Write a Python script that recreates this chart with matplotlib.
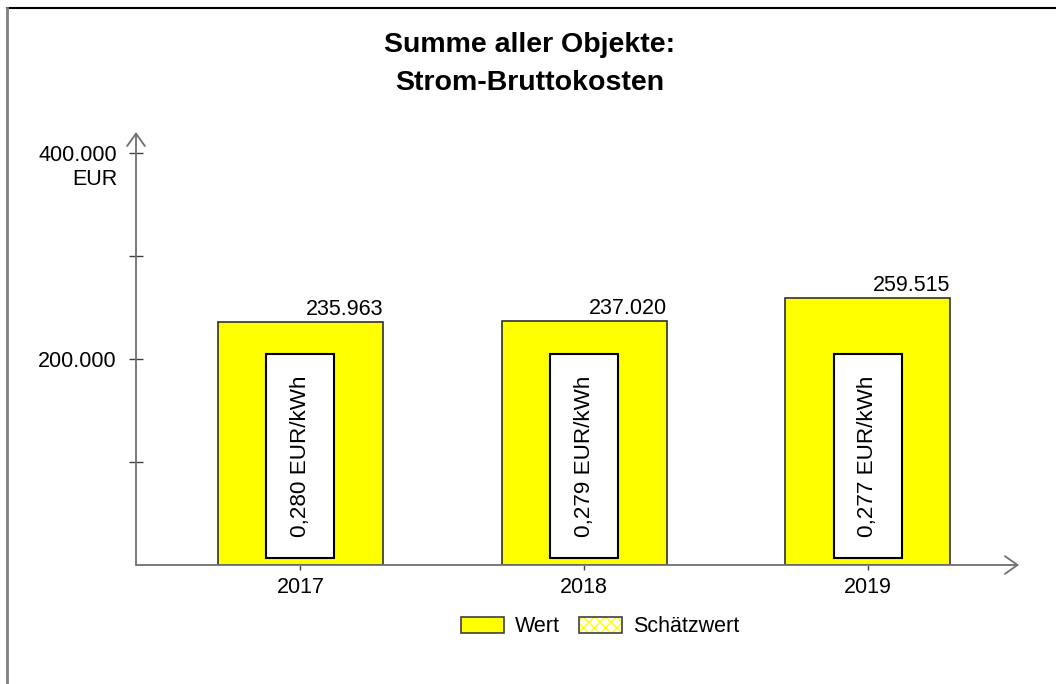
import matplotlib
matplotlib.use("Agg")
import matplotlib.pyplot as plt
from matplotlib.patches import Patch
from matplotlib.legend_handler import HandlerTuple
from matplotlib.lines import Line2D

plt.rcParams['font.family'] = ['Liberation Sans', 'DejaVu Sans']

years = ['2017', '2018', '2019']
values = [235963, 237020, 259515]
value_labels = ['235.963', '237.020', '259.515']
price_labels = ['0,280 EUR/kWh', '0,279 EUR/kWh', '0,277 EUR/kWh']
box_bottom = 7000
box_top = 205000
yticks = [100000, 200000, 300000, 400000]
ytick_labels = ['', '200.000', '', '400.000']

W, H = 1056, 684
fig = plt.figure(figsize=(W / 100, H / 100), dpi=100)

def px(x0, y0, x1, y1):
    return [x0 / W, 1 - y1 / H, (x1 - x0) / W, (y1 - y0) / H]

ax = fig.add_axes(px(136, 132, 1019, 565))
ax.set_xlim(-0.58, 2.534)
ax.set_ylim(0, 420400)
ax.patch.set_alpha(0)

x = range(len(years))
ax.bar(x, values, width=0.582, color='#FFFF00', edgecolor='#303030', linewidth=1.2, zorder=2)
ax.bar(x, [box_top - box_bottom] * 3, bottom=box_bottom, width=0.24,
       color='white', edgecolor='black', linewidth=1.5, zorder=3)

for i, (v, lab, pl) in enumerate(zip(values, value_labels, price_labels)):
    ax.annotate(lab, xy=(i + 0.291, v), xytext=(0, 7), textcoords='offset pixels',
                ha='right', va='baseline', fontsize=15.5, zorder=4)
    ax.text(i, (box_bottom + box_top) / 2, pl, rotation=90, ha='center', va='center',
            fontsize=16.2, zorder=4)

for s in ax.spines.values():
    s.set_visible(False)

axis_col = '#707070'
ax.annotate('', xy=(0, 1), xytext=(0, 0), xycoords='axes fraction',
            arrowprops=dict(arrowstyle='->,head_length=0.45,head_width=0.32',
                            color=axis_col, lw=1.3, mutation_scale=20, shrinkA=0, shrinkB=0))
ax.annotate('', xy=(1, 0), xytext=(0, 0), xycoords='axes fraction',
            arrowprops=dict(arrowstyle='->,head_length=0.45,head_width=0.32',
                            color=axis_col, lw=1.3, mutation_scale=20, shrinkA=0, shrinkB=0))

ax.set_yticks(yticks)
ax.set_yticklabels(ytick_labels, fontsize=15.5)
ax.tick_params(axis='y', direction='inout', length=9.5, width=1, color='#404040', pad=9)
ax.set_xticks(list(x))
ax.set_xticklabels(years, fontsize=15.5)
ax.tick_params(axis='x', direction='out', length=3.5, width=1, color='#404040', pad=5)
ax.annotate('EUR', xy=(0, 400000), xycoords=('axes fraction', 'data'), xytext=(-19, -26),
            textcoords='offset pixels', ha='right', va='center', fontsize=15.5)

fig.text(530 / W, 1 - 64 / H, 'Summe aller Objekte:\nStrom-Bruttokosten', ha='center', va='center',
         fontsize=20.5, fontweight='bold', linespacing=1.55)

h1 = Patch(facecolor='#FFFF00', edgecolor='#404040', linewidth=1.2)
h2a = Patch(facecolor='white', edgecolor='#FFFF00', hatch='xxx', linewidth=0)
h2b = Patch(facecolor='none', edgecolor='#404040', linewidth=1.2)
fig.legend([h1, (h2a, h2b)], ['Wert', 'Schätzwert'],
           handler_map={tuple: HandlerTuple(ndivide=1, pad=0)},
           loc='center', bbox_to_anchor=(600 / W, 1 - 627 / H), ncol=2, frameon=False,
           fontsize=15.5, handlelength=2.0, handleheight=0.75, handletextpad=0.5,
           columnspacing=0.9)

# figure frame lines
fig.add_artist(Line2D([7 / W, 1], [1 - 8 / H, 1 - 8 / H], color='black', lw=1.5,
                      transform=fig.transFigure))
fig.add_artist(Line2D([7 / W, 7 / W], [0, 1 - 8 / H], color='#808080', lw=2,
                      transform=fig.transFigure))

fig.savefig('out.png', dpi=100)
